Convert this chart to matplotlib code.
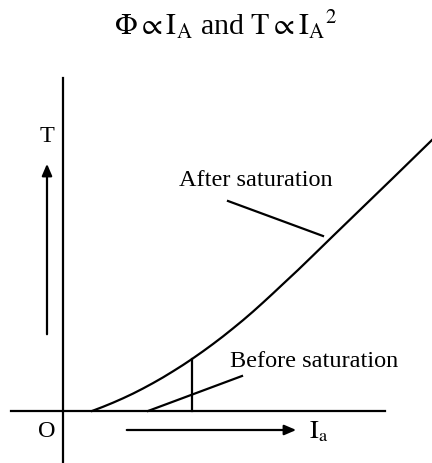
import matplotlib
matplotlib.use("Agg")
import matplotlib.pyplot as plt

plt.rcParams['font.family'] = ['Liberation Serif', 'DejaVu Serif']
plt.rcParams['mathtext.fontset'] = 'stix'

# torque curve (origin at the axes crossing)
ia = [29, 40, 50, 60, 70, 80, 90, 100, 110, 120, 129, 140, 150, 160, 170,
      180, 190, 200, 210, 220, 235, 250, 270, 300, 330, 369]
torque = [0, 4.2, 8.3, 12.7, 17.4, 22.5, 27.9, 33.6, 39.7, 46.0, 52, 59.7,
          67.0, 74.6, 82.6, 90.8, 99.4, 108.4, 117.6, 127, 141, 155.5, 175,
          204, 233, 271]

# marker line at the start of saturation and the two pointer lines
sat_x = 129
sat_y = 52
before_ptr_x = [85, 179]
before_ptr_y = [0, 35]
after_ptr_x = [165, 260]
after_ptr_y = [210, 175]

fig = plt.figure(figsize=(4.32, 4.64), dpi=100)
ax = fig.add_axes([0, 0, 1, 1])
ax.set_xlim(-63, 369)
ax.set_ylim(-52, 412)
ax.axis('off')

lw = 1.6
# axes
ax.plot([-52, 322], [0, 0], color='black', lw=lw)
ax.plot([0, 0], [-52, 333], color='black', lw=lw)

# curve
ax.plot(ia, torque, color='black', lw=lw, solid_joinstyle='round')
ax.plot([sat_x, sat_x], [0, sat_y], color='black', lw=lw)
ax.plot(before_ptr_x, before_ptr_y, color='black', lw=lw)
ax.plot(after_ptr_x, after_ptr_y, color='black', lw=lw)

# direction arrows
arrow = dict(arrowstyle='-|>,head_length=0.7,head_width=0.3', color='black', lw=lw)
ax.annotate('', xy=(-16, 250), xytext=(-16, 74), arrowprops=arrow)
ax.annotate('', xy=(236, -19), xytext=(61, -19), arrowprops=arrow)

# labels
ax.text(-16, 276, 'T', fontsize=17.5, ha='center', va='center')
ax.text(-16, -20, 'O', fontsize=17.5, ha='center', va='center')
ax.text(246, -20, r'$\mathrm{I_a}$', fontsize=19, ha='left', va='center')
ax.text(116, 232, 'After saturation', fontsize=17.5, ha='left', va='center')
ax.text(167, 50, 'Before saturation', fontsize=17.5, ha='left', va='center')
ax.text(163, 387, r'$\Phi \propto \mathrm{I_A}$ and $\mathrm{T} \propto \mathrm{I_A}^2$',
        fontsize=21.5, ha='center', va='center')

fig.savefig('out.png', dpi=100)
